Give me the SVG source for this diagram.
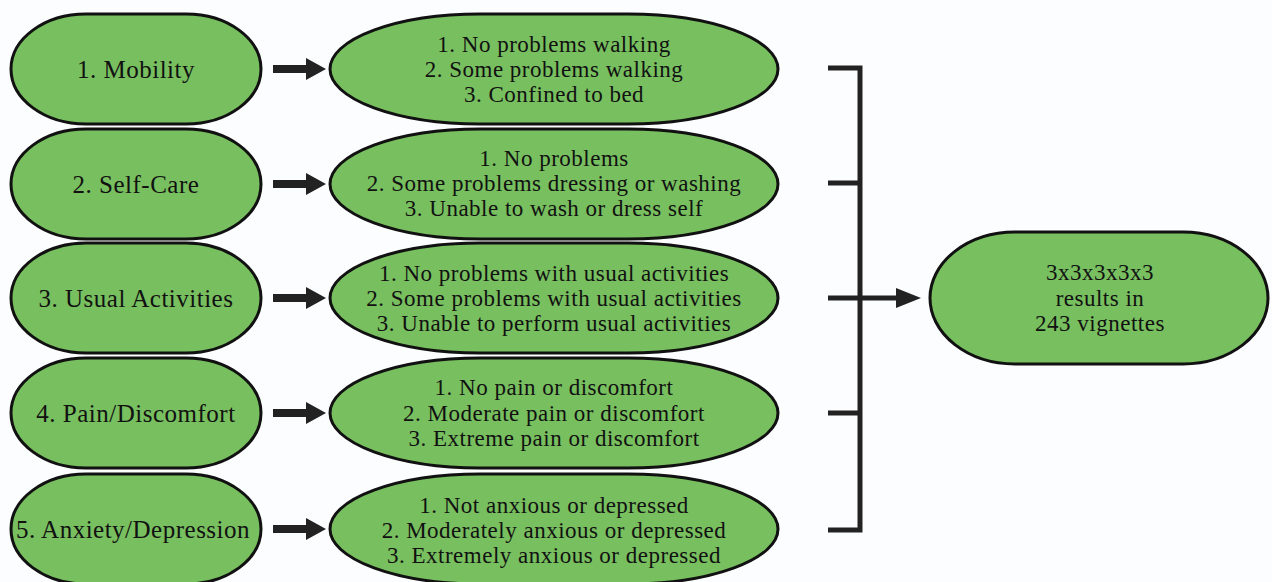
<svg xmlns="http://www.w3.org/2000/svg" width="1272" height="582" viewBox="0 0 1272 582">
<style>
.n{fill:#78bf5f;stroke:#111;stroke-width:3}
text{font-family:"Liberation Serif","Times New Roman",serif;font-size:23px;letter-spacing:0.5px;fill:#111;text-anchor:middle}
text.s{font-size:25px}
.c{fill:none;stroke:#222;stroke-width:5}
.a{fill:#222}
</style>
<rect width="1272" height="582" fill="#fcfdff"/>
<g id="dim1"><rect class="n" x="11" y="14" width="250" height="110" rx="75" ry="55"/><text class="s" x="136" y="78">1. Mobility</text></g>
<g id="dim2"><rect class="n" x="11" y="129" width="250" height="110" rx="75" ry="55"/><text class="s" x="136" y="193">2. Self-Care</text></g>
<g id="dim3"><rect class="n" x="11" y="243" width="250" height="110" rx="75" ry="55"/><text class="s" x="136" y="307">3. Usual Activities</text></g>
<g id="dim4"><rect class="n" x="11" y="358" width="250" height="110" rx="75" ry="55"/><text class="s" x="136" y="422">4. Pain/Discomfort</text></g>
<g id="dim5"><rect class="n" x="11" y="474" width="250" height="110" rx="75" ry="55"/><text class="s" x="133" y="538">5. Anxiety/Depression</text></g>

<g id="lvl1"><rect class="n" x="330" y="14" width="448" height="110" rx="150" ry="55"/><text x="554" y="52">1. No problems walking</text><text x="554" y="77">2. Some problems walking</text><text x="554" y="102">3. Confined to bed</text></g>
<g id="lvl2"><rect class="n" x="330" y="129" width="448" height="110" rx="150" ry="55"/><text x="554" y="166">1. No problems</text><text x="554" y="191">2. Some problems dressing or washing</text><text x="554" y="216">3. Unable to wash or dress self</text></g>
<g id="lvl3"><rect class="n" x="330" y="243" width="448" height="110" rx="150" ry="55"/><text x="554" y="281">1. No problems with usual activities</text><text x="554" y="306">2. Some problems with usual activities</text><text x="554" y="331">3. Unable to perform usual activities</text></g>
<g id="lvl4"><rect class="n" x="330" y="358" width="448" height="110" rx="150" ry="55"/><text x="554" y="395">1. No pain or discomfort</text><text x="554" y="421">2. Moderate pain or discomfort</text><text x="554" y="446">3. Extreme pain or discomfort</text></g>
<g id="lvl5"><rect class="n" x="330" y="474" width="448" height="110" rx="150" ry="55"/><text x="554" y="513">1. Not anxious or depressed</text><text x="554" y="538">2. Moderately anxious or depressed</text><text x="554" y="563">3. Extremely anxious or depressed</text></g>

<g id="result"><rect class="n" x="930" y="232" width="338" height="132" rx="85" ry="66"/><text x="1100" y="280">3x3x3x3x3</text><text x="1100" y="306">results in</text><text x="1100" y="331">243 vignettes</text></g>

<g id="connectors">
<polygon class="a" points="273,65 306,65 306,58 326,69 306,80 306,73 273,73"/>
<polygon class="a" points="273,180 306,180 306,173 326,184 306,195 306,188 273,188"/>
<polygon class="a" points="273,294 306,294 306,287 326,298 306,309 306,302 273,302"/>
<polygon class="a" points="273,409 306,409 306,402 326,413 306,424 306,417 273,417"/>
<polygon class="a" points="273,525 306,525 306,518 326,529 306,540 306,533 273,533"/>
<path class="c" d="M828,68 H860 V530 H828 M828,183 H860 M828,413 H860 M828,298 H898"/>
<polygon class="a" points="896,288 921,298 896,308"/>
</g>
</svg>
